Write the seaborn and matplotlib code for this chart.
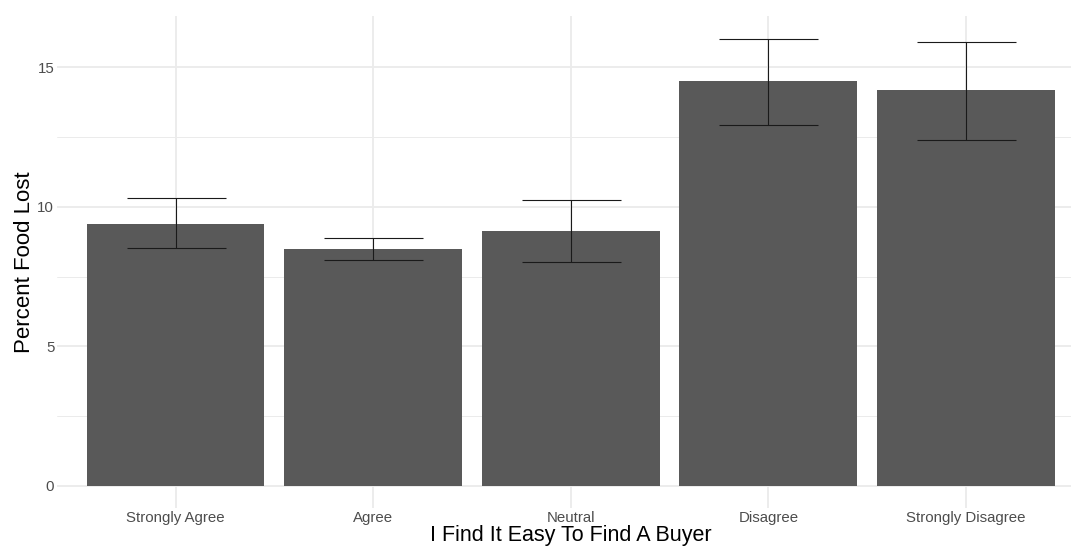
import matplotlib
matplotlib.use("Agg")
import matplotlib.pyplot as plt
import numpy as np
import pandas as pd
import seaborn as sns
from matplotlib.ticker import MultipleLocator

categories = ["Strongly Agree", "Agree", "Neutral", "Disagree", "Strongly Disagree"]
percent_lost = [9.40, 8.47, 9.12, 14.50, 14.17]
err_low = [8.53, 8.09, 8.01, 12.94, 12.41]
err_high = [10.30, 8.87, 10.25, 16.03, 15.91]

x_title = "I Find It Easy To Find A Buyer"
y_title = "Percent Food Lost"


def main():
    sns.set_theme(style="white")
    plt.rcParams['font.family'] = ['Liberation Sans', 'DejaVu Sans']

    df = pd.DataFrame({"answer": categories, "lost": percent_lost})

    fig = plt.figure(figsize=(10.71, 5.46), dpi=100)
    ax = fig.add_axes([57 / 1071, 1 - 508 / 546, (1084.5 - 57) / 1071, (508 - 16) / 546])

    sns.barplot(data=df, x="answer", y="lost", order=categories, color="#595959",
                saturation=1, width=0.9, errorbar=None, linewidth=0, ax=ax, zorder=2)

    vals = np.array(percent_lost)
    yerr = [vals - np.array(err_low), np.array(err_high) - vals]
    # cap half width = 0.25 category units, in points
    cap_pts = 0.25 * 198 * 72 / 100
    ax.errorbar(np.arange(len(categories)), vals, yerr=yerr, fmt="none",
                ecolor="#1a1a1a", elinewidth=0.8, capsize=cap_pts, capthick=0.8, zorder=3)

    ax.set_xlim(-0.6, len(categories) - 0.4)
    ax.set_ylim(-0.80, 16.84)
    ax.yaxis.set_major_locator(MultipleLocator(5))
    ax.yaxis.set_minor_locator(MultipleLocator(2.5))

    ax.grid(which="major", axis="both", color="#EBEBEB", linewidth=1.3, zorder=0)
    ax.grid(which="minor", axis="y", color="#EBEBEB", linewidth=0.7, zorder=0)
    ax.set_axisbelow(True)
    for s in ax.spines.values():
        s.set_visible(False)

    ax.tick_params(axis="both", which="both", length=0, labelsize=10.8, labelcolor="#4D4D4D")
    ax.tick_params(axis="x", pad=2)
    ax.tick_params(axis="y", pad=2)

    ax.set_xlabel(x_title, fontsize=15.5, color="black", labelpad=0.5)
    ax.set_ylabel(y_title, fontsize=16, color="black", labelpad=1.5)

    fig.savefig("out.png", dpi=100, facecolor="white")


if __name__ == "__main__":
    main()
